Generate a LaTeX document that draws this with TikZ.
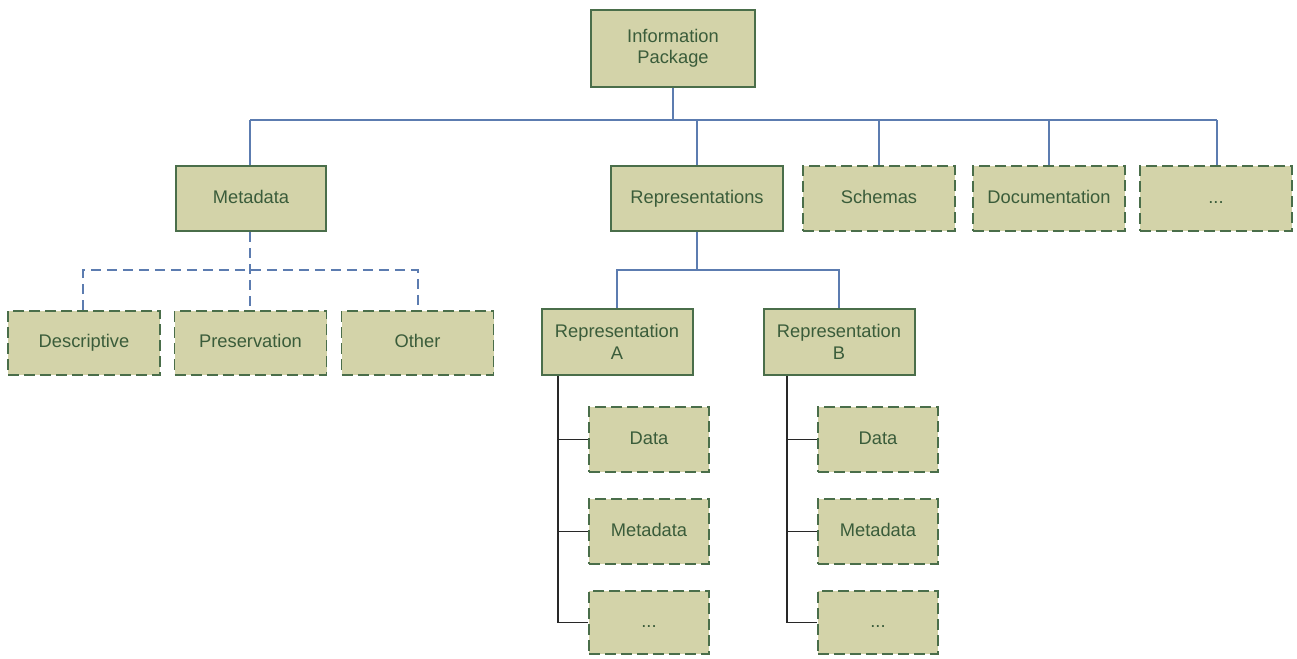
\documentclass[tikz,border=0pt]{standalone}
\usepackage{fontspec}
\setmainfont{Liberation Sans}
\usetikzlibrary{backgrounds}
\definecolor{boxfill}{RGB}{211,211,169}
\definecolor{boxline}{RGB}{74,110,74}
\definecolor{boxtext}{RGB}{58,92,58}
\definecolor{linkblue}{RGB}{92,124,176}
\definecolor{linkdark}{RGB}{40,40,40}
\tikzset{
  box/.style={draw=boxline, fill=boxfill, line width=2pt, text=boxtext, inner sep=0pt,
    font=\fontsize{18.3}{21.5}\selectfont, minimum height=65pt},
  solidbox/.style={box},
  twoline/.style={align=center},
  oneline/.style={text height=13pt, text depth=4pt},
  dashbox/.style={box, oneline, line width=1.8pt, dash pattern=on 11pt off 5pt},
  link/.style={draw=linkblue, line width=2pt},
  dlink/.style={link, dash pattern=on 10pt off 6pt},
  tlink/.style={draw=linkdark, line width=1.6pt},
}
\begin{document}
\begin{tikzpicture}[x=1pt,y=-1pt]
\useasboundingbox (0,0) rectangle (1297,658);
% nodes
\node[solidbox, twoline, minimum width=164pt, minimum height=77pt] (ip) at (673,48.5) {Information\\Package};
\node[solidbox, oneline, minimum width=150pt] (meta) at (251,198.5) {Metadata};
\node[solidbox, oneline, minimum width=172pt] (reps) at (697,198.5) {Representations};
\node[dashbox, minimum width=152pt] (schemas) at (879,198.5) {Schemas};
\node[dashbox, minimum width=152pt] (doc) at (1049,198.5) {Documentation};
\node[dashbox, minimum width=152pt] (more) at (1216,198.5) {...};
\node[dashbox, minimum width=152pt, minimum height=64pt] (desc) at (84,343) {Descriptive};
\node[dashbox, minimum width=152pt, minimum height=64pt] (pres) at (250.5,343) {Preservation};
\node[dashbox, minimum width=152pt, minimum height=64pt] (other) at (417.5,343) {Other};
\node[solidbox, twoline, minimum width=151pt, minimum height=66pt] (repA) at (617,342) {Representation\\A};
\node[solidbox, twoline, minimum width=151pt, minimum height=66pt] (repB) at (839,342) {Representation\\B};
\node[dashbox, minimum width=120pt] (dataA) at (649,439.5) {Data};
\node[dashbox, minimum width=120pt] (metaA) at (649,531.5) {Metadata};
\node[dashbox, minimum width=120pt, minimum height=63pt] (moreA) at (649,622.5) {...};
\node[dashbox, minimum width=120pt] (dataB) at (878,439.5) {Data};
\node[dashbox, minimum width=120pt] (metaB) at (878,531.5) {Metadata};
\node[dashbox, minimum width=120pt, minimum height=63pt] (moreB) at (878,622.5) {...};
\begin{scope}[on background layer]
% top bus
\coordinate (bus) at (0,120);
\draw[link] (ip.south) -- (ip.south |- bus);
\draw[link] ([xshift=-1pt]meta.north |- bus) -- ([xshift=1pt]more.north |- bus);
\draw[link] ([xshift=-1pt]meta.north) -- ([xshift=-1pt]meta.north |- bus);
\draw[link] (reps.north) -- (reps.north |- bus);
\draw[link] (schemas.north) -- (schemas.north |- bus);
\draw[link] (doc.north) -- (doc.north |- bus);
\draw[link] ([xshift=1pt]more.north) -- ([xshift=1pt]more.north |- bus);
% metadata children (dashed)
\coordinate (mbus) at (0,270);
\draw[dlink] ([xshift=-1pt]meta.south) -- ([xshift=-0.5pt]pres.north);
\draw[dlink] ([xshift=-1pt]desc.north) -- ([xshift=-1pt]desc.north |- mbus) -- ([xshift=0.5pt]other.north |- mbus) -- ([xshift=0.5pt]other.north);
% representations children
\coordinate (rbus) at (0,270);
\draw[link] (reps.south) -- (reps.south |- rbus);
\draw[link] (repA.north) -- (repA.north |- rbus) -- (repB.north |- rbus) -- (repB.north);
% representation A tree
\coordinate (tA) at ([xshift=-59pt]repA.south);
\draw[tlink] (tA) |- (moreA.west);
\draw[tlink] (tA |- dataA.west) -- (dataA.west);
\draw[tlink] (tA |- metaA.west) -- (metaA.west);
% representation B tree
\coordinate (tB) at ([xshift=-52pt]repB.south);
\draw[tlink] (tB) |- (moreB.west);
\draw[tlink] (tB |- dataB.west) -- (dataB.west);
\draw[tlink] (tB |- metaB.west) -- (metaB.west);
\end{scope}
\end{tikzpicture}
\end{document}
